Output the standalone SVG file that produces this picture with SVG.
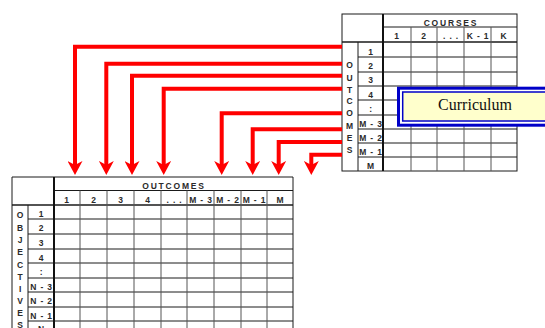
<svg xmlns="http://www.w3.org/2000/svg" width="545" height="328" viewBox="0 0 545 328">
<style>
.g{stroke:#1a1a1a;stroke-width:1;fill:none}
.gc{stroke:#555;stroke-width:1;fill:none}
.th{stroke:#111;stroke-width:2;fill:none}
.t{font-family:"Liberation Sans",Arial,sans-serif;font-size:8.5px;font-weight:bold;fill:#2a2a2a;text-anchor:middle;letter-spacing:0.8px}
.h{letter-spacing:1.8px}
.arr{stroke:#ff0000;stroke-width:4;fill:none;stroke-linejoin:miter;marker-end:url(#ah)}
</style>
<defs>
<marker id="ah" markerUnits="userSpaceOnUse" markerWidth="14" markerHeight="15" viewBox="0 0 14 15" refX="4" refY="7.5" orient="auto">
<path d="M0,0 L14,7.5 L0,15 L4,7.5 z" fill="#ff0000"/>
</marker>
</defs>
<rect width="545" height="328" fill="#ffffff"/>

<g id="courses-table">
<rect class="g" x="342" y="14" width="175" height="157"/>
<line class="g" x1="383" y1="27" x2="517" y2="27"/>
<line class="g" x1="342" y1="42" x2="517" y2="42" style="stroke-width:1.5"/>
<line class="g" x1="358" y1="42" x2="358" y2="171"/>
<path class="g" d="M358,57H517M358,72H517M358,86H517M358,100H517M358,115H517M358,129H517M358,143H517M358,157H517"/>
<path class="gc" d="M411,27V171M437,27V171M464,27V171M491,27V171"/>
<line class="th" x1="383" y1="14" x2="383" y2="171"/>
<text class="t h" x="451" y="25.5">COURSES</text>
<text class="t" x="397" y="39">1</text>
<text class="t" x="424" y="39">2</text>
<text class="t" x="451" y="39">. . .</text>
<text class="t" x="478" y="39">K - 1</text>
<text class="t" x="504" y="39">K</text>
<text class="t" x="371" y="54.5">1</text>
<text class="t" x="371" y="69">2</text>
<text class="t" x="371" y="83">3</text>
<text class="t" x="371" y="97.5">4</text>
<text class="t" x="371" y="112">:</text>
<text class="t" x="371" y="126.5">M - 3</text>
<text class="t" x="371" y="140.5">M - 2</text>
<text class="t" x="371" y="155">M - 1</text>
<text class="t" x="371" y="169">M</text>
<text class="t" x="350" y="68">O</text>
<text class="t" x="350" y="80.5">U</text>
<text class="t" x="350" y="92.5">T</text>
<text class="t" x="350" y="104">C</text>
<text class="t" x="350" y="116">O</text>
<text class="t" x="350" y="128.5">M</text>
<text class="t" x="350" y="141">E</text>
<text class="t" x="350" y="153">S</text>
</g>

<g id="curriculum">
<rect x="398.5" y="88.2" width="160" height="37" fill="#ffffff" stroke="#0000c8" stroke-width="3"/>
<rect x="402.7" y="92" width="160" height="29" fill="#ffffcc" stroke="#0000c8" stroke-width="1.5"/>
<text x="475" y="109.5" font-family="'Liberation Serif','Times New Roman',serif" font-size="16" fill="#111" text-anchor="middle">Curriculum</text>
</g>

<g id="objectives-table">
<path class="g" d="M12,340V177H293V340"/>
<line class="g" x1="54" y1="190.5" x2="293" y2="190.5"/>
<line class="g" x1="12" y1="205" x2="293" y2="205" style="stroke-width:1.5"/>
<line class="g" x1="28" y1="205" x2="28" y2="340"/>
<path class="g" d="M28,219H293M28,234H293M28,249H293M28,263H293M28,278H293M28,292H293M28,307H293M28,321H293"/>
<path class="gc" d="M80,190.5V340M107,190.5V340M134,190.5V340M161,190.5V340M187,190.5V340M214,190.5V340M241,190.5V340M267,190.5V340"/>
<line class="th" x1="54" y1="177" x2="54" y2="340"/>
<text class="t h" x="174" y="188.5">OUTCOMES</text>
<text class="t" x="67" y="203">1</text>
<text class="t" x="94" y="203">2</text>
<text class="t" x="121" y="203">3</text>
<text class="t" x="148" y="203">4</text>
<text class="t" x="174.5" y="203">. . .</text>
<text class="t" x="201" y="203">M - 3</text>
<text class="t" x="228" y="203">M - 2</text>
<text class="t" x="254.5" y="203">M - 1</text>
<text class="t" x="280.5" y="203">M</text>
<text class="t" x="41.5" y="216.5">1</text>
<text class="t" x="41.5" y="231">2</text>
<text class="t" x="41.5" y="246">3</text>
<text class="t" x="41.5" y="260.5">4</text>
<text class="t" x="41.5" y="275">:</text>
<text class="t" x="41.5" y="289.5">N - 3</text>
<text class="t" x="41.5" y="304">N - 2</text>
<text class="t" x="41.5" y="318.5">N - 1</text>
<text class="t" x="41.5" y="332">N</text>
<text class="t" x="20.5" y="218">O</text>
<text class="t" x="20.5" y="231">B</text>
<text class="t" x="20.5" y="243">J</text>
<text class="t" x="20.5" y="255">E</text>
<text class="t" x="20.5" y="268">C</text>
<text class="t" x="20.5" y="280">T</text>
<text class="t" x="20.5" y="292">I</text>
<text class="t" x="20.5" y="304">V</text>
<text class="t" x="20.5" y="316">E</text>
<text class="t" x="20.5" y="327.5">S</text>
</g>

<g id="connectors">
<path class="arr" d="M342,46.7H75V165"/>
<path class="arr" d="M342,63.7H106.3V165"/>
<path class="arr" d="M342,75.7H132V165"/>
<path class="arr" d="M342,88.7H163.7V165"/>
<path class="arr" d="M342,113.3H221.7V165"/>
<path class="arr" d="M342,129.3H252.7V165"/>
<path class="arr" d="M342,142H278.7V165"/>
<path class="arr" d="M342,154.7H311.3V165"/>
</g>
</svg>
